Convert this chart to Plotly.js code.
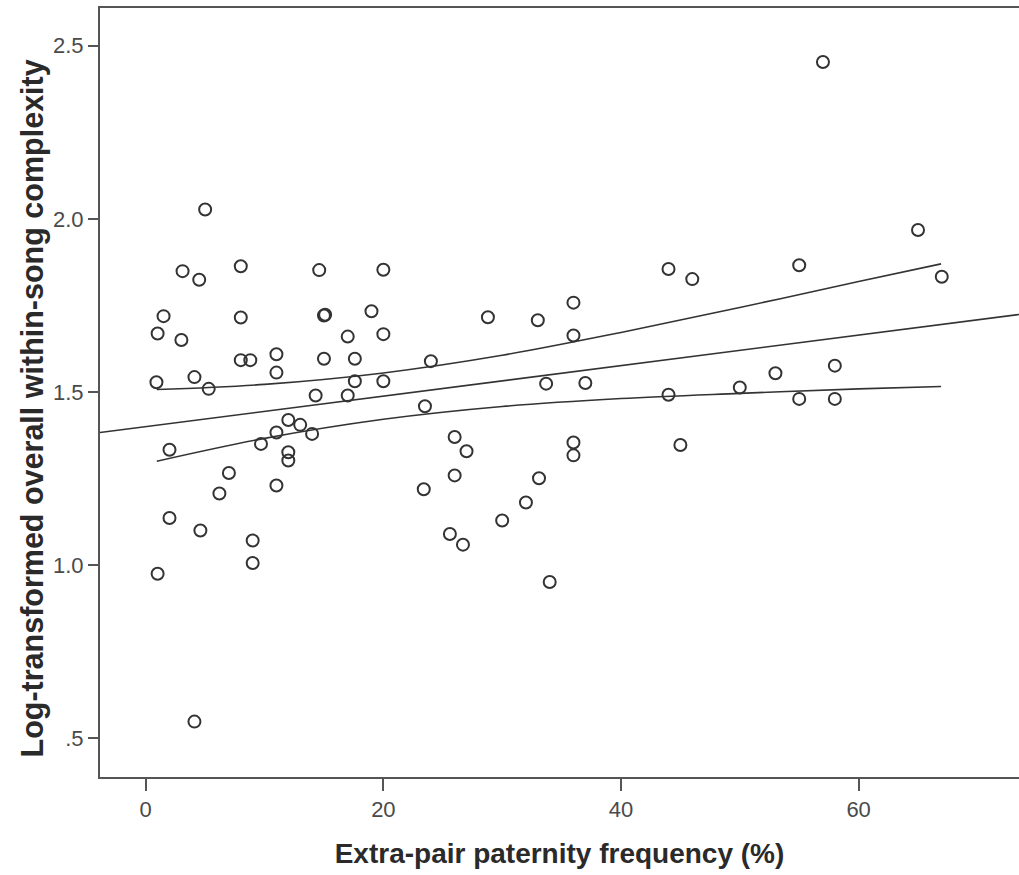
<!DOCTYPE html>
<html>
<head>
<meta charset="utf-8">
<script src="https://cdn.plot.ly/plotly-3.0.1.min.js"></script>
<style>html,body{margin:0;padding:0;background:#fff;}#chart{width:1019px;height:875px;}</style>
</head>
<body>
<div id="chart"></div>
<script>
// Scatter data: extra-pair paternity frequency (%) vs log-transformed song complexity
const epp = [5.0, 3.1, 4.5, 8.0, 14.6, 20.0, 1.5, 1.0, 3.0, 8.0, 15.0, 15.1, 19.0, 17.0, 20.0,
  8.0, 8.8, 11.0, 11.0, 15.0, 17.6, 24.0, 0.9, 4.1, 5.3, 17.6, 20.0, 14.3, 17.0, 23.5,
  12.0, 13.0, 11.0, 14.0, 9.7, 2.0, 12.0, 12.0, 7.0, 6.2, 11.0, 23.4, 2.0, 4.6, 9.0,
  9.0, 1.0, 4.1, 44.0, 46.0, 36.0, 28.8, 33.0, 36.0, 33.7, 37.0, 44.0, 50.0, 26.0,
  27.0, 36.0, 36.0, 45.0, 26.0, 33.1, 32.0, 30.0, 25.6, 26.7, 34.0, 57.0, 65.0, 55.0,
  67.0, 58.0, 53.0, 55.0, 58.0];
const complexity = [2.027, 1.849, 1.824, 1.863, 1.852, 1.853, 1.719, 1.669, 1.650, 1.715, 1.721, 1.723, 1.733, 1.660, 1.667,
  1.592, 1.592, 1.609, 1.556, 1.596, 1.596, 1.589, 1.528, 1.543, 1.509, 1.531, 1.531, 1.490, 1.490, 1.459,
  1.419, 1.405, 1.383, 1.379, 1.350, 1.333, 1.326, 1.302, 1.266, 1.207, 1.230, 1.219, 1.136, 1.100, 1.071,
  1.006, 0.975, 0.548, 1.855, 1.826, 1.758, 1.716, 1.707, 1.663, 1.524, 1.526, 1.492, 1.513, 1.370,
  1.329, 1.354, 1.317, 1.347, 1.259, 1.251, 1.181, 1.129, 1.090, 1.059, 0.951, 2.453, 1.968, 1.866,
  1.833, 1.576, 1.554, 1.480, 1.480];

// Fit line (at the axis ends)
const fitX = [-3.85, 74];
const fitY = [1.383, 1.726];

// 95% confidence band
const ciX = [0.93, 10, 20, 30, 40, 50, 60, 66.94];
const ciUpper = [1.507, 1.522, 1.555, 1.606, 1.672, 1.744, 1.819, 1.870];
const ciLower = [1.300, 1.366, 1.421, 1.458, 1.481, 1.496, 1.509, 1.516];

const xTicks = [0, 20, 40, 60];
const xTickText = ['0', '20', '40', '60'];
const yTicks = [0.5, 1.0, 1.5, 2.0, 2.5];
const yTickText = ['.5', '1.0', '1.5', '2.0', '2.5'];

const xTitle = 'Extra-pair paternity frequency (%)';
const yTitle = 'Log-transformed overall within-song complexity';

const lineColor = '#333333';
const traces = [
  {x: fitX, y: fitY, mode: 'lines', line: {color: lineColor, width: 1.6}, hoverinfo: 'skip'},
  {x: ciX, y: ciUpper, mode: 'lines', line: {color: lineColor, width: 1.6, shape: 'spline'}, hoverinfo: 'skip'},
  {x: ciX, y: ciLower, mode: 'lines', line: {color: lineColor, width: 1.6, shape: 'spline'}, hoverinfo: 'skip'},
  {x: epp, y: complexity, mode: 'markers', type: 'scatter',
   marker: {symbol: 'circle-open', size: 12, color: '#333333', line: {width: 2, color: '#333333'}}}
];

const tickFont = {family: '"Liberation Sans Narrow", "Liberation Sans", Arial, sans-serif', size: 22, color: '#4a4a4a'};
const titleFamily = '"Liberation Sans", Arial, sans-serif';

const layout = {
  width: 1019, height: 875,
  margin: {l: 100, r: 0, t: 8, b: 98},
  paper_bgcolor: '#ffffff', plot_bgcolor: '#ffffff',
  showlegend: false,
  xaxis: {
    range: [-3.85, 73.5], tickvals: xTicks, ticktext: xTickText,
    ticks: 'outside', ticklen: 12, tickwidth: 2, tickcolor: '#555',
    showline: true, linecolor: '#555', linewidth: 2, mirror: true,
    showgrid: false, zeroline: false, tickfont: tickFont,
    title: {text: xTitle, font: {family: titleFamily, size: 28, color: '#2a2a2a', weight: 'bold'}, standoff: 22}
  },
  yaxis: {
    range: [0.388, 2.609], tickvals: yTicks, ticktext: yTickText,
    ticks: 'outside', ticklen: 10, tickwidth: 2, tickcolor: '#555',
    showline: true, linecolor: '#555', linewidth: 2,
    showgrid: false, zeroline: false, tickfont: tickFont
  },
  annotations: [{
    text: yTitle, textangle: -90, showarrow: false,
    xref: 'paper', yref: 'paper', x: 0, y: 0.5, xanchor: 'center', yanchor: 'middle',
    xshift: -68, yshift: -16,
    font: {family: titleFamily, size: 30.5, color: '#2a2a2a', weight: 'bold'}
  }]
};

Plotly.newPlot('chart', traces, layout, {displayModeBar: false, staticPlot: true});
</script>
</body>
</html>
